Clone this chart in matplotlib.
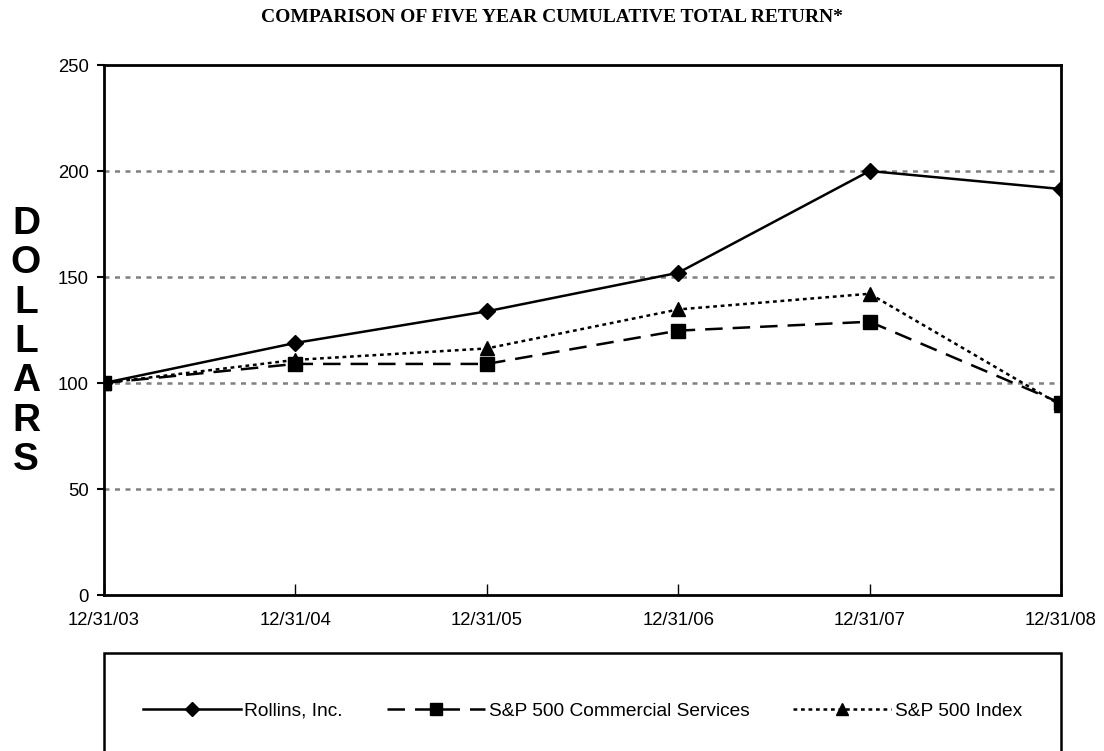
import matplotlib
matplotlib.use("Agg")
import matplotlib.pyplot as plt
from matplotlib.patches import Rectangle

dates = ["12/31/03", "12/31/04", "12/31/05", "12/31/06", "12/31/07", "12/31/08"]
rollins = [100, 118.9, 133.8, 152.0, 200.0, 191.5]
commercial = [100, 109.0, 109.0, 124.7, 128.9, 90.5]
sp500 = [100, 110.9, 116.3, 134.7, 142.1, 89.5]
yticks = [0, 50, 100, 150, 200, 250]

W, H = 1104, 751
fig = plt.figure(figsize=(W / 100, H / 100), dpi=100)
plt.rcParams['font.family'] = ['Liberation Sans', 'DejaVu Sans']

L, R, T, B = 104, 1061, 65, 595
ax = fig.add_axes([L / W, 1 - B / H, (R - L) / W, (B - T) / H])
x = list(range(len(dates)))

for yv in yticks[1:-1]:
    ax.axhline(yv, color='#808080', lw=1.8, linestyle=(0, (2, 2.2)), zorder=1)

ax.plot(x, rollins, color='black', lw=1.8, marker='D', markersize=8, label='Rollins, Inc.', zorder=3)
ax.plot(x, commercial, color='black', lw=1.8, linestyle=(0, (7, 4)), marker='s', markersize=9.5,
        label='S&P 500 Commercial Services', zorder=3)
ax.plot(x, sp500, color='black', lw=1.8, linestyle=(0, (1.5, 1.5)), marker='^', markersize=9.5,
        label='S&P 500 Index', zorder=3)

ax.set_xlim(0, len(dates) - 1)
ax.set_ylim(0, 250)
ax.set_yticks(yticks)
ax.set_xticks(x)
ax.set_xticklabels(dates, fontsize=13.3)
ax.set_yticklabels([str(v) for v in yticks], fontsize=13.3)
ax.tick_params(axis='x', direction='in', length=8, width=1, pad=12)
ax.tick_params(axis='y', direction='out', length=5, width=1.5, pad=6)
for s in ax.spines.values():
    s.set_linewidth(2)

fig.text(0.5, 1 - 18 / H, "COMPARISON OF FIVE YEAR CUMULATIVE TOTAL RETURN*",
         family=['Liberation Serif'], fontweight='bold', fontsize=14, ha='center', va='center')

fig.text(26 / W, 1 - 342 / H, "\n".join("DOLLARS"), fontsize=28, fontweight='bold',
         ha='center', va='center', linespacing=1.12)

rect = Rectangle((L / W, -0.1), (R - L) / W, (1 - 653 / H) + 0.1, transform=fig.transFigure,
                 fill=False, edgecolor='black', lw=1.8)
fig.patches.append(rect)

handles, labels = ax.get_legend_handles_labels()
fig.legend(handles, labels, loc='center', bbox_to_anchor=(582.5 / W, 1 - 711 / H), ncol=3,
           frameon=False, fontsize=13.8, handlelength=5.1, handletextpad=0.2, columnspacing=2.3,
           markerscale=0.9)

fig.savefig("out.png", dpi=100)
